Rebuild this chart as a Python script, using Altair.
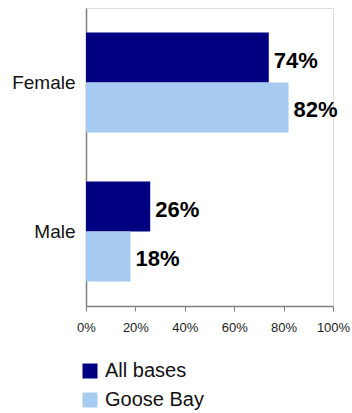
import altair as alt
import pandas as pd

# Share of respondents by gender, all bases vs. Goose Bay
genders = ["Female", "Female", "Male", "Male"]
series = ["All bases", "Goose Bay", "All bases", "Goose Bay"]
values = [0.74, 0.82, 0.26, 0.18]

series_order = ["All bases", "Goose Bay"]
series_colors = ["#000080", "#A6CAF0"]
gender_order = ["Female", "Male"]
x_ticks = [0, 0.2, 0.4, 0.6, 0.8, 1.0]

df = pd.DataFrame({"gender": genders, "series": series, "value": values})

FONT = "Liberation Sans"

y_enc = alt.Y(
    "gender:N",
    sort=gender_order,
    title=None,
    scale=alt.Scale(paddingInner=0.33, paddingOuter=0.165),
    axis=alt.Axis(
        ticks=False,
        labelFontSize=19,
        labelColor="#111111",
        labelFont=FONT,
        labelPadding=11,
        domainColor="#808080",
        domainWidth=1.5,
    ),
)
yoff_enc = alt.YOffset("series:N", sort=series_order, scale=alt.Scale(paddingInner=0, paddingOuter=0))
x_enc = alt.X(
    "value:Q",
    title=None,
    scale=alt.Scale(domain=[0, 1]),
    axis=alt.Axis(
        values=x_ticks,
        format=".0%",
        grid=False,
        tickSize=5,
        tickColor="#808080",
        domainColor="#808080",
        domainWidth=1.5,
        labelFontSize=13,
        labelColor="#222222",
        labelFont=FONT,
        labelPadding=10,
        labelFlush=False,
        labelOverlap=False,
    ),
)

bars = alt.Chart(df).mark_bar().encode(
    y=y_enc,
    yOffset=yoff_enc,
    x=x_enc,
    color=alt.Color(
        "series:N",
        sort=series_order,
        scale=alt.Scale(domain=series_order, range=series_colors),
        legend=alt.Legend(
            title=None,
            orient="none",
            legendX=-6,
            legendY=353,
            symbolType="square",
            symbolSize=225,
            symbolStrokeWidth=0,
            symbolOpacity=1,
            labelFontSize=20,
            labelFont=FONT,
            labelColor="#111111",
            labelOffset=5,
            rowPadding=9,
            padding=0,
        ),
    ),
)

labels = alt.Chart(df).mark_text(
    align="left", baseline="middle", dx=5, dy=3, fontSize=22, fontWeight="bold", font=FONT, color="#000000"
).encode(
    y=alt.Y("gender:N", sort=gender_order),
    yOffset=alt.YOffset("series:N", sort=series_order),
    x=alt.X("value:Q"),
    text=alt.Text("value:Q", format=".0%"),
)

chart = (
    alt.layer(bars, labels)
    .properties(
        width=247,
        height=298,
        autosize=alt.AutoSizeParams(type="none"),
        padding={"left": 86, "top": 8, "right": 19, "bottom": 107},
    )
    .configure_view(stroke=None)
    .configure(background="white")
)

chart.save("out.html", embed_options={"renderer": "svg", "actions": False})
